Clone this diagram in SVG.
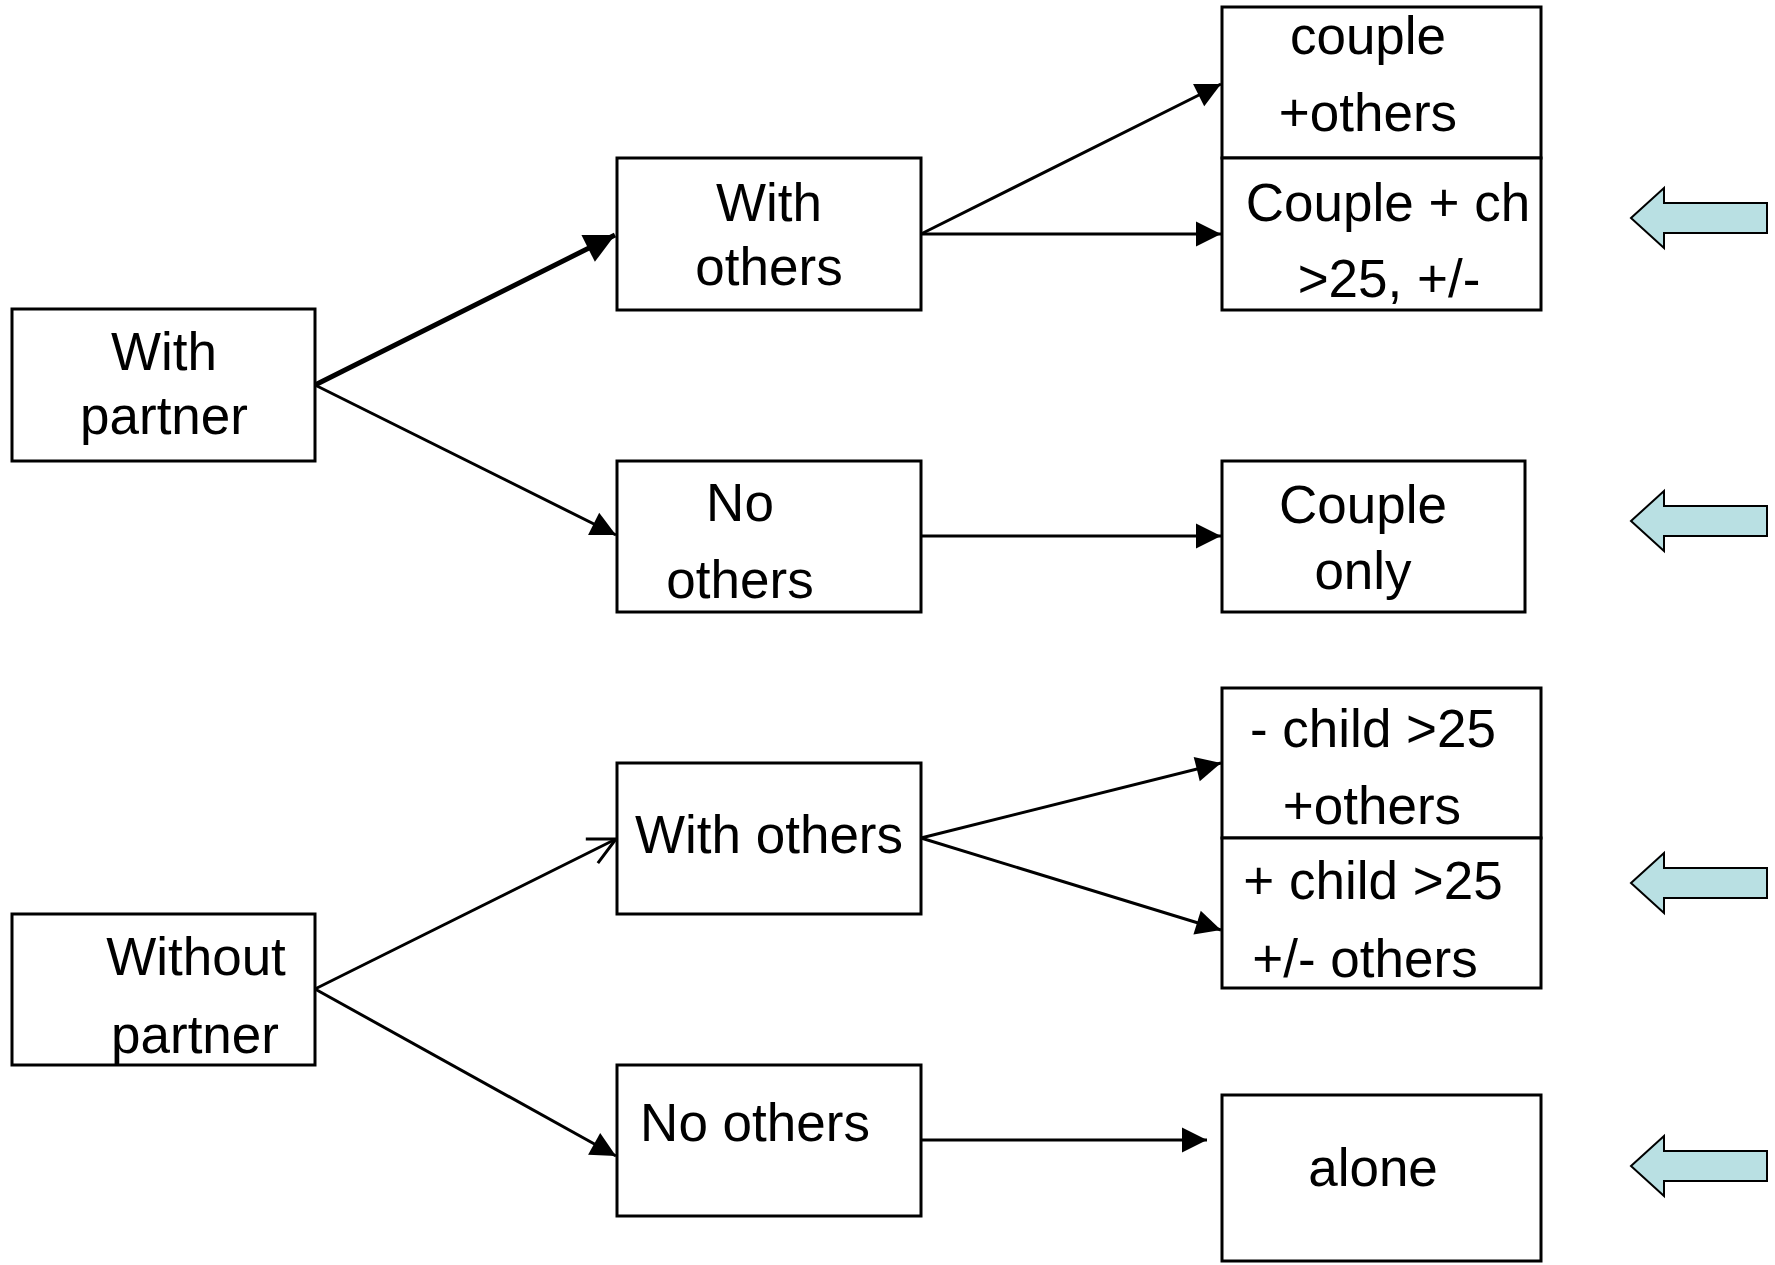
<svg xmlns="http://www.w3.org/2000/svg" width="1775" height="1265" viewBox="0 0 1775 1265">
<style>
  .box { fill: #ffffff; stroke: #000000; stroke-width: 3; }
  .lbl { font-family: "Liberation Sans", Arial, sans-serif; font-size: 53px; fill: #000000; text-anchor: middle; }
  .con { fill: none; stroke: #000000; stroke-width: 3; }
  .thick { stroke-width: 5; }
  .blk { fill: #B9E0E3; stroke: #000000; stroke-width: 2; stroke-linejoin: miter; }
</style>
<defs>
  <marker id="ah" markerUnits="userSpaceOnUse" markerWidth="26" markerHeight="26" refX="25" refY="12.5" orient="auto" overflow="visible">
    <path d="M0,0 L25,12.5 L0,25 z" fill="#000"/>
  </marker>
  <marker id="ahBig" markerUnits="userSpaceOnUse" markerWidth="31" markerHeight="31" refX="30" refY="15" orient="auto" overflow="visible">
    <path d="M0,0 L30,15 L0,30 z" fill="#000"/>
  </marker>
  <marker id="ahOpen" markerUnits="userSpaceOnUse" markerWidth="30" markerHeight="30" refX="27" refY="15" orient="auto" overflow="visible">
    <path d="M0,1.5 L27,15 L0,28.5" fill="none" stroke="#000" stroke-width="3"/>
  </marker>
</defs>
<rect width="1775" height="1265" fill="#ffffff"/>

<g id="connectors">
  <line class="con thick" x1="315" y1="385" x2="615" y2="235" marker-end="url(#ahBig)"/>
  <line class="con" x1="315" y1="385" x2="616" y2="535" marker-end="url(#ah)"/>
  <line class="con" x1="921" y1="234" x2="1221" y2="84" marker-end="url(#ah)"/>
  <line class="con" x1="921" y1="234" x2="1221" y2="234" marker-end="url(#ah)"/>
  <line class="con" x1="921" y1="536" x2="1221" y2="536" marker-end="url(#ah)"/>
  <line class="con" x1="315" y1="989" x2="616" y2="839" marker-end="url(#ahOpen)"/>
  <line class="con" x1="315" y1="989" x2="616" y2="1156" marker-end="url(#ah)"/>
  <line class="con" x1="921" y1="838" x2="1221" y2="763" marker-end="url(#ah)"/>
  <line class="con" x1="921" y1="838" x2="1221" y2="930" marker-end="url(#ah)"/>
  <line class="con" x1="921" y1="1140" x2="1207" y2="1140" marker-end="url(#ah)"/>
</g>

<g id="with-partner">
  <rect class="box" x="12" y="309" width="303" height="152"/>
  <text class="lbl" x="164" y="370">With</text>
  <text class="lbl" x="164" y="434">partner</text>
</g>

<g id="with-others-top">
  <rect class="box" x="617" y="158" width="304" height="152"/>
  <text class="lbl" x="769" y="221">With</text>
  <text class="lbl" x="769" y="285">others</text>
</g>

<g id="no-others-top">
  <rect class="box" x="617" y="461" width="304" height="151"/>
  <text class="lbl" x="740" y="521">No</text>
  <text class="lbl" x="740" y="598">others</text>
</g>

<g id="couple-others">
  <rect class="box" x="1222" y="7" width="319" height="151"/>
  <text class="lbl" x="1368" y="54">couple</text>
  <text class="lbl" x="1368" y="131">+others</text>
</g>

<g id="couple-child">
  <rect class="box" x="1222" y="158" width="319" height="152"/>
  <text class="lbl" x="1388" y="221">Couple + ch</text>
  <text class="lbl" x="1389" y="297">&gt;25, +/-</text>
</g>

<g id="couple-only">
  <rect class="box" x="1222" y="461" width="303" height="151"/>
  <text class="lbl" x="1363" y="523">Couple</text>
  <text class="lbl" x="1363" y="589">only</text>
</g>

<g id="without-partner">
  <rect class="box" x="12" y="914" width="303" height="151"/>
  <text class="lbl" x="196" y="975">Without</text>
  <text class="lbl" x="195" y="1053">partner</text>
</g>

<g id="with-others-bottom">
  <rect class="box" x="617" y="763" width="304" height="151"/>
  <text class="lbl" x="769" y="853">With others</text>
</g>

<g id="no-others-bottom">
  <rect class="box" x="617" y="1065" width="304" height="151"/>
  <text class="lbl" x="755" y="1141">No others</text>
</g>

<g id="minus-child">
  <rect class="box" x="1222" y="688" width="319" height="150"/>
  <text class="lbl" x="1373" y="747">- child &gt;25</text>
  <text class="lbl" x="1372" y="824">+others</text>
</g>

<g id="plus-child">
  <rect class="box" x="1222" y="838" width="319" height="150"/>
  <text class="lbl" x="1373" y="899">+ child &gt;25</text>
  <text class="lbl" x="1365" y="977">+/- others</text>
</g>

<g id="alone">
  <rect class="box" x="1222" y="1095" width="319" height="166"/>
  <text class="lbl" x="1373" y="1186">alone</text>
</g>

<g id="block-arrows">
  <path class="blk" d="M1631,218 L1664,188 L1664,203 L1767,203 L1767,233 L1664,233 L1664,248 Z"/>
  <path class="blk" d="M1631,521 L1664,491 L1664,506 L1767,506 L1767,536 L1664,536 L1664,551 Z"/>
  <path class="blk" d="M1631,883 L1664,853 L1664,868 L1767,868 L1767,898 L1664,898 L1664,913 Z"/>
  <path class="blk" d="M1631,1166 L1664,1136 L1664,1151 L1767,1151 L1767,1181 L1664,1181 L1664,1196 Z"/>
</g>
</svg>
